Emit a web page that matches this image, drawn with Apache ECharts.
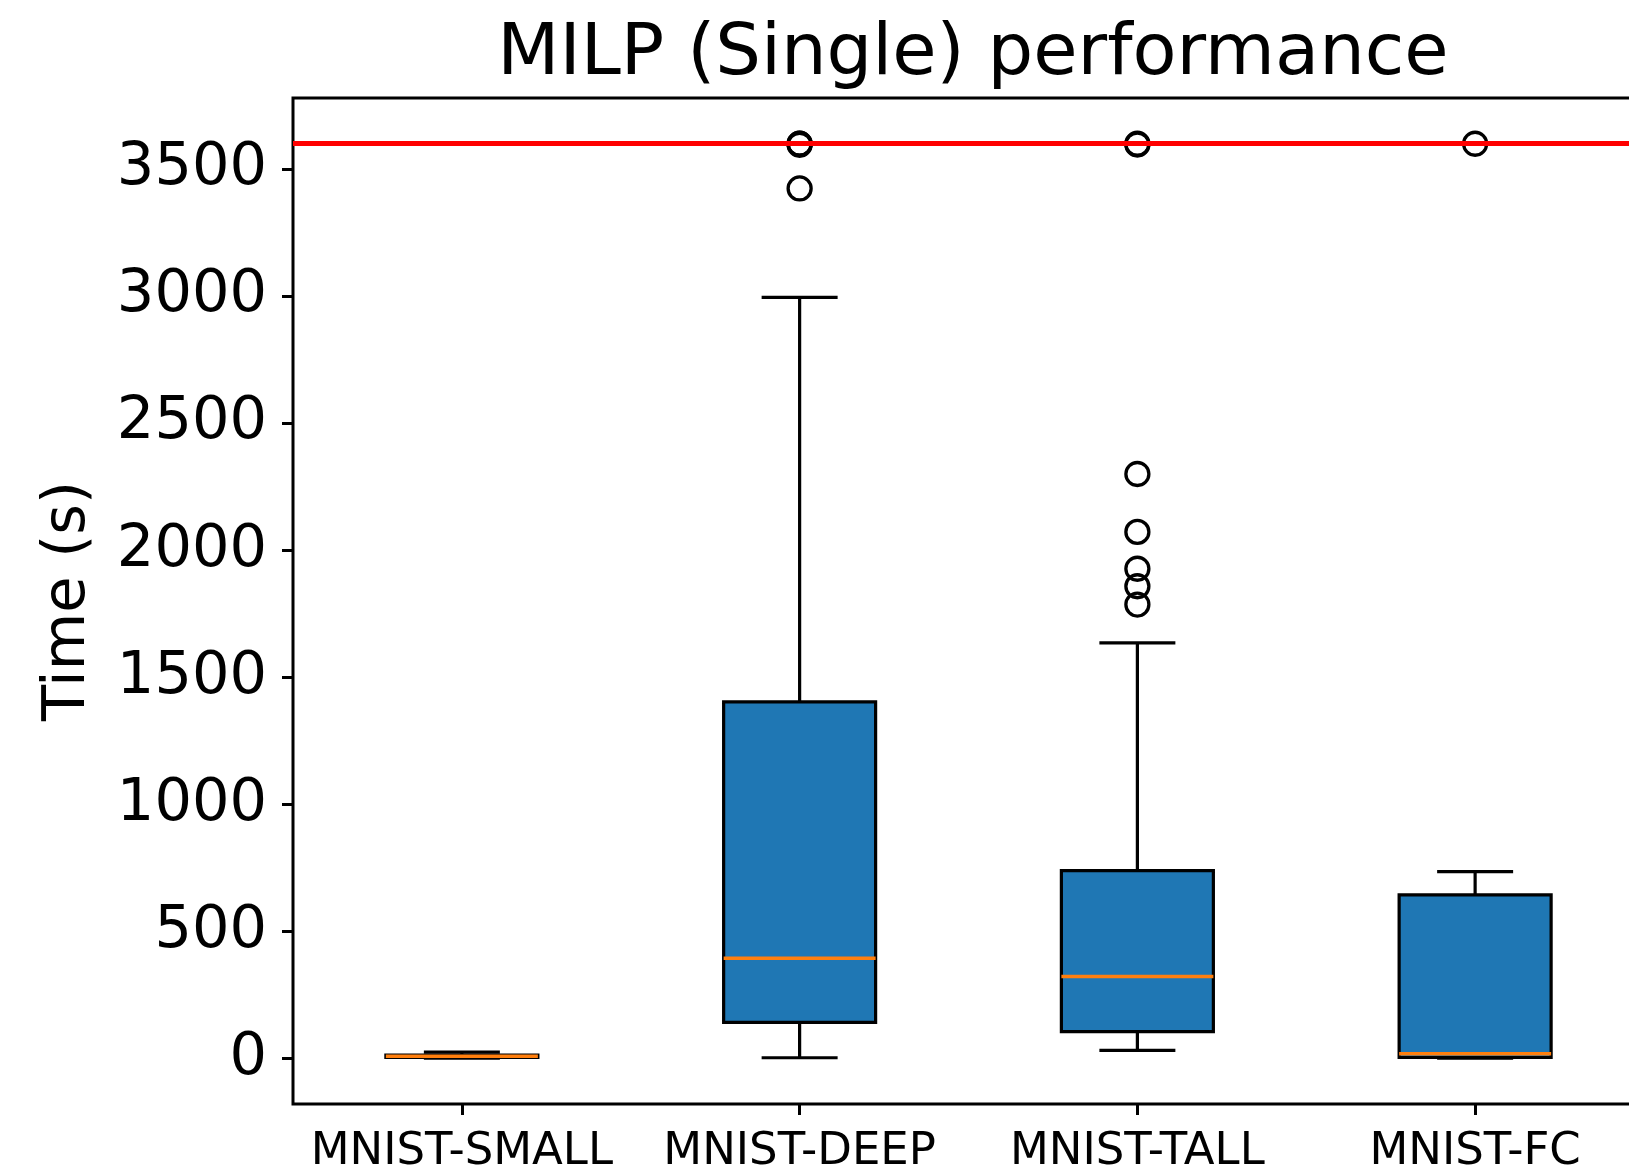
<!DOCTYPE html>
<html>
<head>
<meta charset="utf-8">
<script src="https://cdn.jsdelivr.net/npm/echarts@6/dist/echarts.min.js"></script>
<style>
html,body{margin:0;padding:0;background:#fff;}
#chart{width:1629px;height:1174px;}
</style>
</head>
<body>
<div id="chart"></div>
<script>
const titleText = 'MILP (Single) performance';
const yAxisName = 'Time (s)';
const categories = ['MNIST-SMALL', 'MNIST-DEEP', 'MNIST-TALL', 'MNIST-FC'];
const whiskerLow  = [0, 2, 31, 0];
const q1          = [3, 141, 105, 3];
const median      = [8, 394, 322, 18];
const q3          = [12, 1403, 739, 643];
const whiskerHigh = [24, 2995, 1635, 735];
const outliersSmall = [];
const outliersDeep  = [3424, 3596, 3600, 3600];
const outliersTall  = [1786, 1858, 1927, 2072, 2300, 3597, 3600];
const outliersFc    = [3600];
const timeLimit = 3600;
const yTicks = [0, 500, 1000, 1500, 2000, 2500, 3000, 3500];
const yMin = -180, yMax = 3780;

const boxData = categories.map((c, i) => [i, whiskerLow[i], q1[i], median[i], q3[i], whiskerHigh[i]]);
const outlierData = [];
[outliersSmall, outliersDeep, outliersTall, outliersFc].forEach((arr, i) => {
  arr.forEach(v => outlierData.push([i, v]));
});

const FONT = 'DejaVu Sans';
const chart = echarts.init(document.getElementById('chart'), null, {renderer: 'canvas'});

function renderBox(params, api) {
  const idx = api.value(0);
  const lo = api.value(1), b1 = api.value(2), med = api.value(3), b3 = api.value(4), hi = api.value(5);
  const band = api.size([1, 0])[0];
  const boxW = band * 0.45;
  const capW = boxW / 2;
  const pLo = api.coord([idx, lo]);
  const p1 = api.coord([idx, b1]);
  const pM = api.coord([idx, med]);
  const p3 = api.coord([idx, b3]);
  const pHi = api.coord([idx, hi]);
  const x = pLo[0];
  const lineStyle = {stroke: '#000', lineWidth: 3.2, fill: null};
  return {
    type: 'group',
    children: [
      {type: 'line', shape: {x1: x, y1: pLo[1], x2: x, y2: p1[1]}, style: lineStyle},
      {type: 'line', shape: {x1: x, y1: p3[1], x2: x, y2: pHi[1]}, style: lineStyle},
      {type: 'line', shape: {x1: x - capW / 2, y1: pLo[1], x2: x + capW / 2, y2: pLo[1]}, style: lineStyle},
      {type: 'line', shape: {x1: x - capW / 2, y1: pHi[1], x2: x + capW / 2, y2: pHi[1]}, style: lineStyle},
      {type: 'rect', shape: {x: x - boxW / 2, y: p3[1], width: boxW, height: p1[1] - p3[1]},
        style: {fill: '#1f77b4', stroke: '#000', lineWidth: 3.2}},
      {type: 'line', shape: {x1: x - boxW / 2, y1: pM[1], x2: x + boxW / 2, y2: pM[1]},
        style: {stroke: '#ff7f0e', lineWidth: 3.4}}
    ]
  };
}

chart.setOption({
  animation: false,
  backgroundColor: '#ffffff',
  title: {
    text: titleText,
    left: 968, textAlign: 'center',
    top: 14,
    textStyle: {fontFamily: FONT, fontSize: 72, fontWeight: 'normal', color: '#000'}
  },
  grid: {
    left: 293, top: 98, width: 1351, height: 1006,
    show: true, borderColor: '#000', borderWidth: 3, backgroundColor: 'transparent',
    containLabel: false,
    outerBoundsMode: 'none'
  },
  xAxis: {
    type: 'category',
    data: categories,
    boundaryGap: true,
    axisLine: {show: false, onZero: false},
    axisTick: {show: true, alignWithLabel: true, length: 11, inside: false, lineStyle: {color: '#000', width: 3}},
    axisLabel: {show: true, color: '#000', fontFamily: FONT, fontSize: 45, margin: 26, interval: 0},
    splitLine: {show: false}
  },
  yAxis: {
    type: 'value',
    min: yMin, max: yMax,
    name: yAxisName,
    nameLocation: 'middle',
    nameRotate: 90,
    nameGap: 195,
    nameTextStyle: {fontFamily: FONT, fontSize: 59, color: '#000'},
    axisLine: {show: false, onZero: false},
    axisTick: {show: true, length: 11, inside: false, customValues: yTicks, lineStyle: {color: '#000', width: 3}},
    axisLabel: {show: true, customValues: yTicks, color: '#000', fontFamily: FONT, fontSize: 59, margin: 26,
      formatter: v => String(v)},
    splitLine: {show: false}
  },
  series: [
    {
      type: 'custom',
      name: 'box',
      renderItem: renderBox,
      data: boxData,
      encode: {x: 0, y: [1, 2, 3, 4, 5]},
      z: 2
    },
    {
      type: 'scatter',
      name: 'outliers',
      data: outlierData,
      symbol: 'circle',
      symbolSize: 23,
      itemStyle: {color: 'rgba(0,0,0,0)', borderColor: '#000', borderWidth: 3.3, opacity: 1},
      z: 3,
      markLine: {
        silent: true,
        symbol: ['none', 'none'],
        label: {show: false},
        lineStyle: {color: '#ff0000', width: 5, type: 'solid', opacity: 1},
        data: [{yAxis: timeLimit}],
        z: 4
      }
    }
  ]
});
</script>
</body>
</html>
